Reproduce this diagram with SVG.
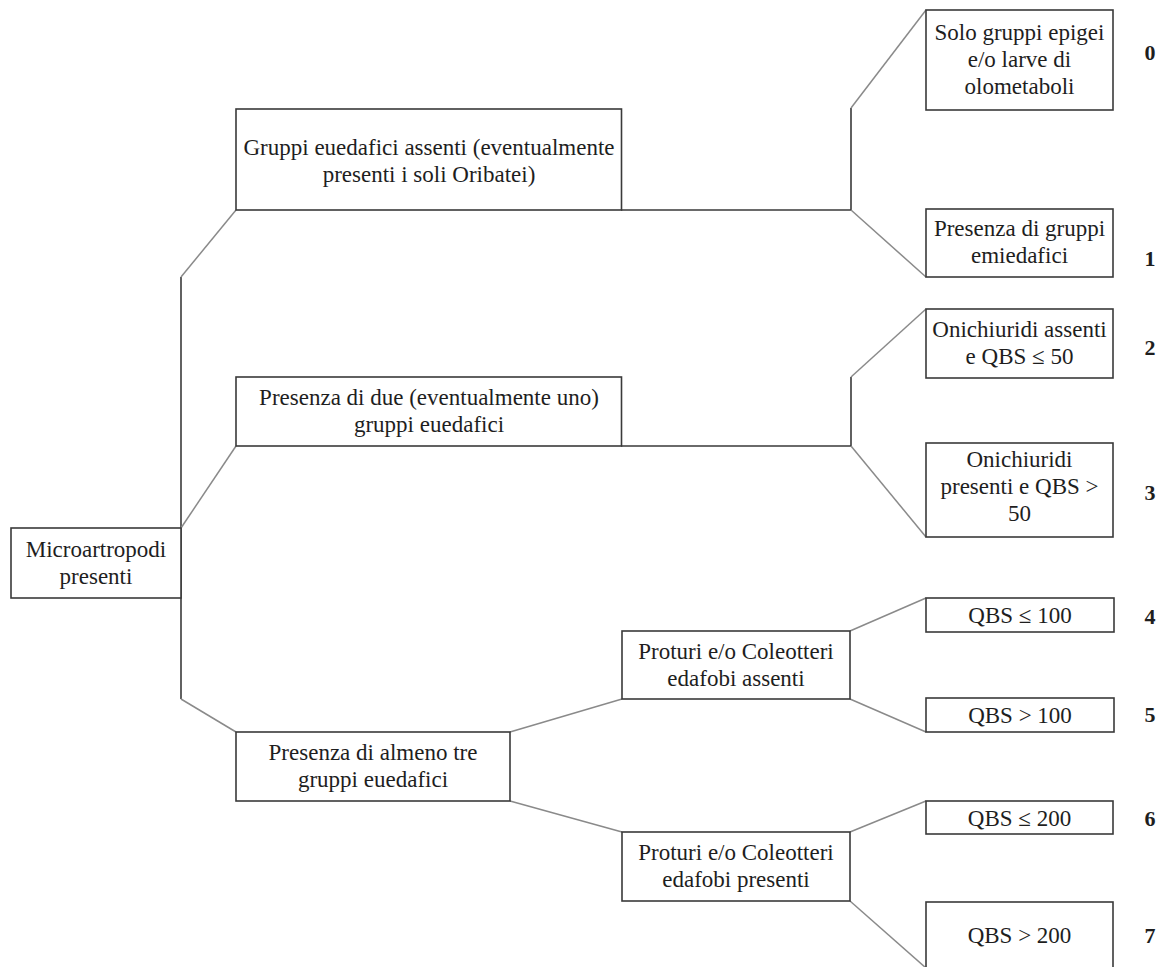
<svg xmlns="http://www.w3.org/2000/svg" width="1168" height="967" viewBox="0 0 1168 967">
<style>
.box{fill:#fff;stroke:#3a3a3a;stroke-width:1.6}
.t{font-family:"Liberation Serif","Times New Roman",serif;font-size:23px;fill:#1e1e1e;text-anchor:middle}
.n{font-family:"Liberation Serif","Times New Roman",serif;font-size:22px;font-weight:bold;fill:#1e1e1e;text-anchor:middle}
.c{fill:none;stroke:#8a8a8a;stroke-width:1.5}
.h{fill:none;stroke:#3a3a3a;stroke-width:1.6}
</style>
<rect width="1168" height="967" fill="#fff"/>
<g id="connectors">
<path class="h" d="M181,277 V699"/>
<path class="c" d="M181,277 L236,210"/>
<path class="c" d="M181,528 L236,446"/>
<path class="c" d="M181,699 L236,732"/>
<path class="h" d="M621,210 H851 M851,108 V210"/>
<path class="c" d="M851,108 L926,10"/>
<path class="c" d="M851,210 L926,277"/>
<path class="h" d="M621,446 H851 M851,377 V446"/>
<path class="c" d="M851,377 L926,309"/>
<path class="c" d="M851,446 L926,537"/>
<path class="c" d="M510,732 L622,699"/>
<path class="c" d="M510,801 L622,832"/>
<path class="c" d="M850,631 L926,598"/>
<path class="c" d="M850,699 L926,732"/>
<path class="c" d="M850,832 L926,801"/>
<path class="c" d="M850,901 L926,968"/>
</g>
<g id="n-micro"><rect class="box" x="11" y="528" width="170" height="70"/><text class="t" x="96" y="557">Microartropodi</text><text class="t" x="96" y="584">presenti</text></g>
<g id="n-assenti"><rect class="box" x="236" y="109" width="385.5" height="101"/><text class="t" x="429" y="155">Gruppi euedafici assenti (eventualmente</text><text class="t" x="429" y="182">presenti i soli Oribatei)</text></g>
<g id="n-due"><rect class="box" x="236" y="377" width="385.5" height="69"/><text class="t" x="429" y="405">Presenza di due (eventualmente uno)</text><text class="t" x="429" y="432">gruppi euedafici</text></g>
<g id="n-tre"><rect class="box" x="236" y="732" width="274" height="69"/><text class="t" x="373" y="760">Presenza di almeno tre</text><text class="t" x="373" y="787">gruppi euedafici</text></g>
<g id="n-pa"><rect class="box" x="622" y="631" width="228" height="68"/><text class="t" x="736" y="659">Proturi e/o Coleotteri</text><text class="t" x="736" y="686">edafobi assenti</text></g>
<g id="n-pp"><rect class="box" x="622" y="832" width="228" height="69"/><text class="t" x="736" y="860">Proturi e/o Coleotteri</text><text class="t" x="736" y="887">edafobi presenti</text></g>
<g id="n-0"><rect class="box" x="926" y="10" width="187" height="100"/><text class="t" x="1019.5" y="40">Solo gruppi epigei</text><text class="t" x="1019.5" y="67">e/o larve di</text><text class="t" x="1019.5" y="94">olometaboli</text><text class="n" x="1150" y="60">0</text></g>
<g id="n-1"><rect class="box" x="926" y="209" width="187" height="68"/><text class="t" x="1019.5" y="236">Presenza di gruppi</text><text class="t" x="1019.5" y="263">emiedafici</text><text class="n" x="1150" y="266">1</text></g>
<g id="n-2"><rect class="box" x="926" y="309" width="187" height="69"/><text class="t" x="1019.5" y="337">Onichiuridi assenti</text><text class="t" x="1019.5" y="364">e QBS ≤ 50</text><text class="n" x="1150" y="355">2</text></g>
<g id="n-3"><rect class="box" x="926" y="443" width="187" height="94"/><text class="t" x="1019.5" y="467">Onichiuridi</text><text class="t" x="1019.5" y="494">presenti e QBS &gt;</text><text class="t" x="1019.5" y="521">50</text><text class="n" x="1150" y="500">3</text></g>
<g id="n-4"><rect class="box" x="926" y="598" width="188" height="34"/><text class="t" x="1020" y="623">QBS ≤ 100</text><text class="n" x="1150" y="624">4</text></g>
<g id="n-5"><rect class="box" x="926" y="698" width="188" height="34"/><text class="t" x="1020" y="723">QBS &gt; 100</text><text class="n" x="1150" y="722">5</text></g>
<g id="n-6"><rect class="box" x="926" y="801" width="187" height="33"/><text class="t" x="1019.5" y="826">QBS ≤ 200</text><text class="n" x="1150" y="826">6</text></g>
<g id="n-7"><rect class="box" x="926" y="902" width="187" height="70"/><text class="t" x="1019.5" y="943">QBS &gt; 200</text><text class="n" x="1150" y="943">7</text></g>
</svg>
